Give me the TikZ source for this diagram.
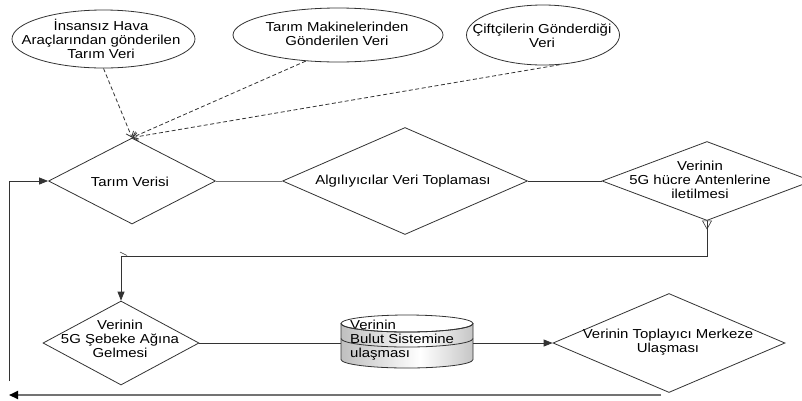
\documentclass[tikz,border=0pt]{standalone}
\usepackage{fontspec}
\setmainfont[FakeStretch=1.15]{Liberation Sans}
\usetikzlibrary{shapes.geometric,arrows.meta}
\pgfdeclarehorizontalshading{drum}{100bp}{color(0bp)=(gray!50); color(25bp)=(gray!50); color(55bp)=(white); color(75bp)=(gray!45); color(100bp)=(gray!45)}

\begin{document}
\begin{tikzpicture}[x=1pt,y=-1pt,
  txt/.style={align=center,inner sep=0pt,font=\fontsize{13}{14}\selectfont},
  src/.style={ellipse,draw=black!80,line width=0.8pt,inner sep=0pt},
  dia/.style={diamond,draw=black!80,line width=0.8pt,inner sep=0pt},
  feed/.style={draw=black!80,line width=0.8pt,dash pattern=on 4pt off 2.5pt,
               -{Straight Barb[length=5pt,width=8pt]}},
  link/.style={draw=black!80,line width=0.8pt},
  flow/.style={link,-{Triangle[length=9pt,width=7pt]}},
  back/.style={draw=black!55,line width=2pt,-{Triangle[length=9pt,width=8pt,color=black]}},
]
\fill[white] (0,0) rectangle (802,400);
\useasboundingbox (0,0) rectangle (802,400);

% data sources
\node[src,minimum width=183pt,minimum height=58pt] (uav) at (103.5,39) {};
\node[txt] (uavT) at (101,39) {İnsansız Hava\\Araçlarından gönderilen\\Tarım Veri};
\node[src,minimum width=210pt,minimum height=54pt] (mach) at (338,35) {};
\node[txt] (machT) at (337,33.5) {Tarım Makinelerinden\\Gönderilen Veri};
\node[src,minimum width=153pt,minimum height=60pt] (farm) at (543,35) {};
\node[txt] (farmT) at (542,36) {Çiftçilerin Gönderdiği\\Veri};

% process steps
\node[dia,minimum width=167pt,minimum height=86pt] (tarim) at (132,181) {};
\node[txt] (tarimT) at (130,182) {Tarım Verisi};
\node[dia,minimum width=245pt,minimum height=107pt] (algi) at (405,181) {};
\node[txt] (algiT) at (403,181) {Algılıyıcılar Veri Toplaması};
\node[dia,minimum width=210pt,minimum height=79pt] (hucre) at (707,181) {};
\node[txt] (hucreT) at (700,180) {Verinin\\5G hücre Antenlerine\\iletilmesi};
\node[dia,minimum width=156pt,minimum height=84pt] (sebeke) at (121,343) {};
\node[txt] (sebekeT) at (120,339) {Verinin\\5G Şebeke Ağına\\Gelmesi};
\node[dia,minimum width=232pt,minimum height=99pt] (toplayici) at (669,343) {};
\node[txt] (toplayiciT) at (668,342.5) {Verinin Toplayıcı Merkeze\\Ulaşması};

% cloud storage drum
\node[minimum width=132pt,minimum height=53pt,inner sep=0pt] (bulut) at (407,341.5) {};
\path[shading=drum,shading angle=0]
  (341,323.5) -- (341,359.5)
  arc[start angle=180,end angle=360,x radius=66pt,y radius=8.5pt]
  -- (473,323.5) -- cycle;
\draw[black!80,line width=0.8pt]
  (341,323.5) -- (341,359.5)
  arc[start angle=180,end angle=360,x radius=66pt,y radius=8.5pt]
  -- (473,323.5);
\draw[black!80,line width=0.8pt,fill=white] (407,323.5) ellipse [x radius=66pt,y radius=8.5pt];
\node[txt,align=left,anchor=west] (bulutT) at (350,340.5) {Verinin\\Bulut Sistemine\\ulaşması};
\draw[black!80,line width=0.8pt]
  (341,323.5) arc[start angle=180,end angle=360,x radius=66pt,y radius=8.5pt];
\draw[black!80,line width=0.8pt]
  (341,338.5) arc[start angle=180,end angle=360,x radius=66pt,y radius=8.5pt];

% incoming data
\draw[feed] (uav.south) -- (tarim.north);
\draw[feed] (mach.219) -- (tarim.north);
\draw[feed] (farm.300) -- (tarim.north);

% main flow
\draw[link,draw=black!55] (tarim.east) -- (algi.west);
\draw[link] (algi.east) -- (hucre.west);
\draw[link,line width=0.6pt] (hucre.south) ++(-4.5,0) -- ++(9,0) -- ++(-4.5,8) -- cycle;
\draw[flow] (hucre.south) -- (hucre.south |- 0,256) -| (sebeke.north);
\draw[link,line width=0.5pt] (120,252) -- (127,255.5);
\draw[link] (sebeke.east) -- (sebeke.east -| bulut.west);
\draw[flow] (bulut.east |- toplayici.west) -- (toplayici.west);

% return path
\coordinate (ret1) at (661,395);
\coordinate (ret2) at (9,395);
\coordinate (ret3) at (9,381);
\draw[back] (ret1) -- (ret2);
\draw[flow] (ret3) |- (tarim.west);
\end{tikzpicture}
\end{document}
